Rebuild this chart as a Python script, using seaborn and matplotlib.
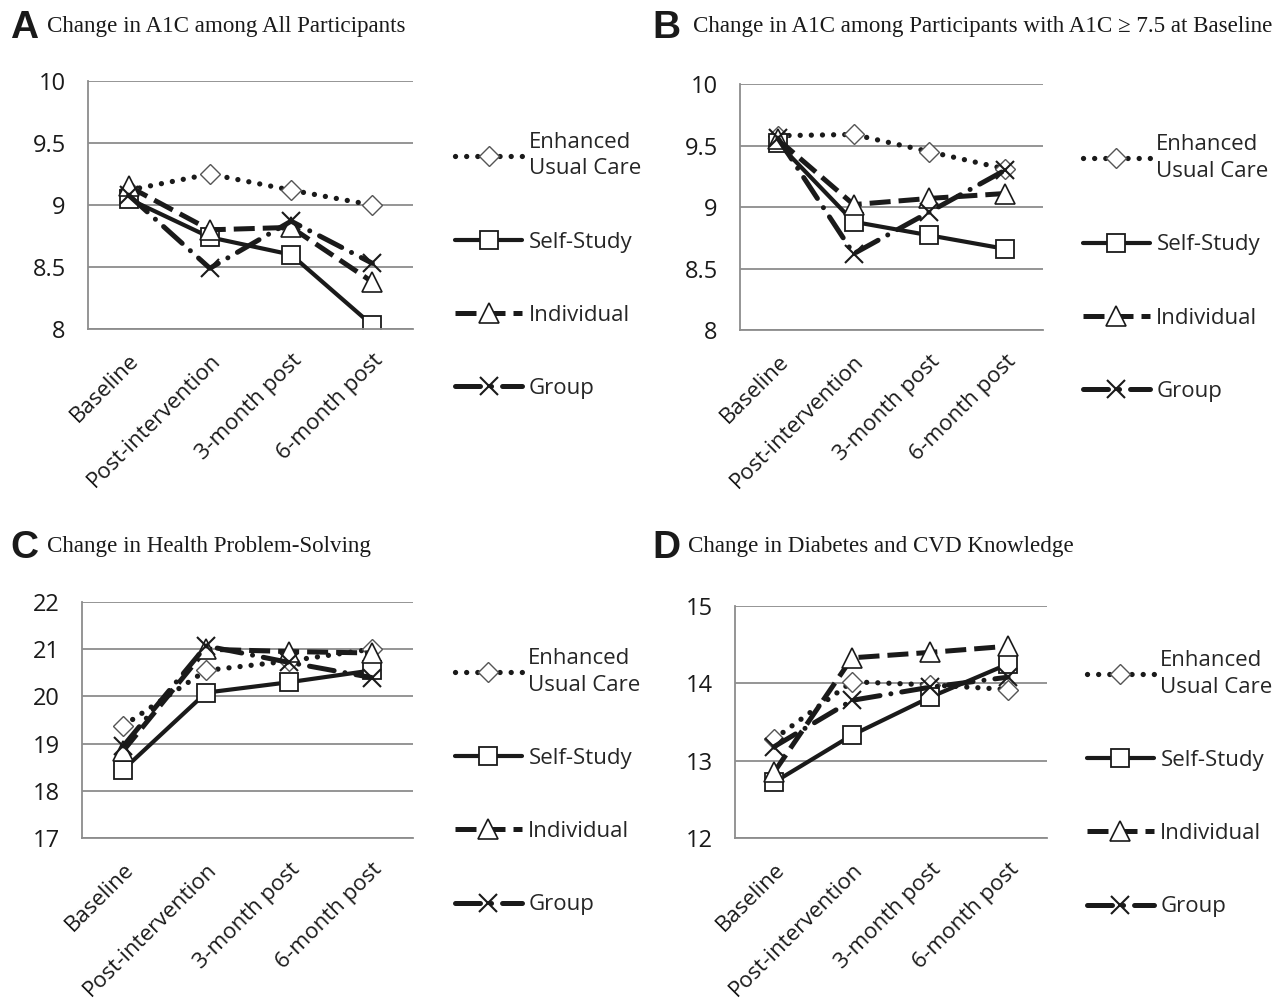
import numpy as np
import pandas as pd
import matplotlib
matplotlib.use("Agg")
import matplotlib.pyplot as plt
from matplotlib.lines import Line2D
from matplotlib.ticker import FuncFormatter, MultipleLocator, FixedLocator
import seaborn as sns

# Data
timepoints = ["Baseline", "Post-intervention", "3-month post", "6-month post"]
groups = ["Enhanced\nUsual Care", "Self-Study", "Individual", "Group"]

# A: A1C, all participants
a_euc = [9.12, 9.25, 9.12, 9.00]
a_self = [9.05, 8.74, 8.60, 8.03]
a_indiv = [9.15, 8.80, 8.82, 8.38]
a_group = [9.08, 8.49, 8.87, 8.53]

# B: A1C, participants with A1C >= 7.5 at baseline
b_euc = [9.58, 9.59, 9.45, 9.31]
b_self = [9.52, 8.88, 8.77, 8.66]
b_indiv = [9.55, 9.02, 9.07, 9.11]
b_group = [9.56, 8.62, 8.96, 9.30]

# C: health problem-solving
c_euc = [19.38, 20.55, 20.75, 21.00]
c_self = [18.45, 20.08, 20.30, 20.55]
c_indiv = [18.85, 21.00, 20.95, 20.92]
c_group = [18.95, 21.07, 20.72, 20.40]

# D: diabetes and CVD knowledge
d_euc = [13.28, 14.02, 13.98, 13.92]
d_self = [12.72, 13.33, 13.82, 14.25]
d_indiv = [12.85, 14.33, 14.40, 14.48]
d_group = [13.18, 13.78, 13.95, 14.08]

titles = ["Change in A1C among All Participants",
          "Change in A1C among Participants with A1C \u2265 7.5 at Baseline",
          "Change in Health Problem-Solving",
          "Change in Diabetes and CVD Knowledge"]
letters = ["A", "B", "C", "D"]

sns.set_style("white")
plt.rcParams['font.family'] = ['Open Sans', 'DejaVu Sans']

INK = "#1a1a1a"
GRID = "#8c8c8c"
FS = 16

# line / marker styles per group
styles = [
    dict(linestyle=(0, (0.01, 2.1)), lw=3.8, dash_capstyle="round", marker="D",
         ms=10, mfc="white", mec="#555555", mew=1.0),
    dict(linestyle="-", lw=3.0, marker="s", ms=13, mfc="white", mec=INK, mew=1.3),
    dict(linestyle=(0, (4.2, 1.6)), lw=3.6, dash_capstyle="butt", marker="^",
         ms=14, mfc="white", mec=INK, mew=1.2),
    dict(linestyle=(0, (5, 2.2, 0.01, 2.2)), lw=3.6, dash_capstyle="round", marker="x",
         ms=13, mfc=INK, mec=INK, mew=1.5),
]

panels = [
    dict(series=[a_euc, a_self, a_indiv, a_group], ylim=(8, 10), step=0.5,
         rect=[0.0687, 0.6703, 0.2537, 0.2485], leg=(1.13, 0.795), tpos=(0.008, 0.972, 0.037)),
    dict(series=[b_euc, b_self, b_indiv, b_group], ylim=(8, 10), step=0.5,
         rect=[0.5777, 0.6693, 0.2365, 0.2465], leg=(1.132, 0.795), tpos=(0.509, 0.972, 0.541)),
    dict(series=[c_euc, c_self, c_indiv, c_group], ylim=(17, 22), step=1,
         rect=[0.064, 0.1603, 0.2584, 0.2365], leg=(1.127, 0.805), tpos=(0.008, 0.451, 0.037)),
    dict(series=[d_euc, d_self, d_indiv, d_group], ylim=(12, 15), step=1,
         rect=[0.5738, 0.1603, 0.2436, 0.2325], leg=(1.128, 0.81), tpos=(0.509, 0.451, 0.537)),
]

fig = plt.figure(figsize=(12.81, 9.98), dpi=100)

for i, p in enumerate(panels):
    ax = fig.add_axes(p["rect"])
    for vals, st in zip(p["series"], styles):
        sns.lineplot(x=timepoints, y=vals, ax=ax, color=INK, estimator=None,
                     sort=False, legend=False, **st)

    ax.set_xlim(-0.5, 3.5)
    ax.set_ylim(*p["ylim"])
    ax.yaxis.set_major_locator(MultipleLocator(p["step"]))
    ax.yaxis.set_major_formatter(FuncFormatter(lambda v, pos: f"{v:g}"))
    ax.grid(axis="y", color=GRID, lw=1.3)
    ax.grid(axis="x", visible=False)
    ax.set_axisbelow(True)
    for s in ["top", "right"]:
        ax.spines[s].set_visible(False)
    for s in ["left", "bottom"]:
        ax.spines[s].set_color(GRID)
        ax.spines[s].set_linewidth(1.3)

    ax.set_xticks(range(4))
    ax.set_xticklabels(timepoints, rotation=45, ha="right", rotation_mode="anchor")
    ax.xaxis.set_minor_locator(FixedLocator([-0.5, 0.5, 1.5, 2.5, 3.5]))
    ax.tick_params(axis="x", which="major", length=0, pad=15, labelsize=FS, labelcolor=INK)
    ax.tick_params(axis="x", which="minor", length=6, width=1.3, color=GRID, direction="out")
    ax.tick_params(axis="y", length=6, width=1.3, color=GRID, direction="out",
                   labelsize=FS + 1, labelcolor=INK, pad=10)
    ax.set_xlabel("")
    ax.set_ylabel("")

    handles = [Line2D([], [], color=INK, **st) for st in styles]
    leg = ax.legend(handles, groups, loc="upper left", bbox_to_anchor=p["leg"],
                    frameon=False, fontsize=FS, labelspacing=2.35, handlelength=3.0,
                    handletextpad=0.3, borderaxespad=0, borderpad=0)
    for t in leg.get_texts():
        t.set_linespacing(1.35)

    lx, ly, tx = p["tpos"]
    fig.text(lx, ly, letters[i], fontsize=28, fontweight="bold", va="center",
             family=["Liberation Sans", "DejaVu Sans"], color=INK)
    fig.text(tx, ly + 0.001, titles[i], fontsize=16.6, va="center",
             family=["Liberation Serif", "DejaVu Serif"], color=INK)

fig.savefig("out.png", dpi=100, facecolor="white")
